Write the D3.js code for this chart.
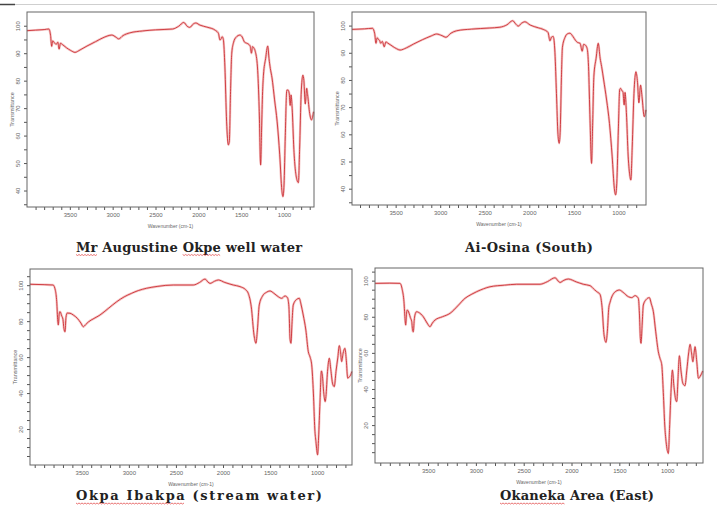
<!DOCTYPE html>
<html>
<head>
<meta charset="utf-8">
<script src="https://cdn.jsdelivr.net/npm/d3@7"></script>
<style>
  body { margin: 0; background: #fff; }
  svg { display: block; }
</style>
</head>
<body>
<div id="chart"></div>
<script>
// spectra: [wavenumber cm-1, transmittance %]
const captions = ['Mr Augustine Okpe well water', 'Ai-Osina (South)', 'Okpa Ibakpa (stream water)', 'Okaneka Area (East)'];
const flaggedWords = [['Mr', 'Okpe'], [], ['Okpa Ibakpa'], ['Okaneka']];

const xTickLabels = [3500, 3000, 2500, 2000, 1500, 1000];
const yTickLabelsTop = [40, 50, 60, 70, 80, 90, 100];
const yTickLabelsBottom = [20, 40, 60, 80, 100];

const augustineWell = [[4000,98.2],[3900,98.4],[3800,98.6],[3745,98.8],[3725,96.5],[3712,92.5],[3700,94.5],[3680,93.8],[3660,93.2],[3640,94],[3625,91.5],[3610,93.6],[3580,93],[3540,92],[3490,91],[3440,90.3],[3380,91.2],[3300,92.6],[3200,94.2],[3100,95.8],[3010,96.6],[2960,95.8],[2930,95.2],[2880,96.4],[2800,97.4],[2650,98.1],[2500,98.5],[2300,98.8],[2230,99.8],[2170,101.2],[2130,99.8],[2100,99.4],[2060,100.6],[2030,101],[1980,100.2],[1900,99.5],[1800,98.3],[1765,97.2],[1748,94.8],[1735,95.2],[1722,96],[1708,95],[1690,85],[1670,65],[1650,56.6],[1638,58],[1625,75],[1610,90],[1590,93.8],[1560,95.8],[1515,96.6],[1490,96],[1460,94],[1440,93.7],[1420,93.4],[1395,92.6],[1380,90],[1368,92.4],[1350,91.8],[1335,90.6],[1310,85],[1290,70],[1273,49.3],[1262,62],[1250,76],[1240,82],[1215,88],[1190,92.6],[1175,88],[1160,84.5],[1140,81],[1110,73],[1080,65],[1050,53],[1025,40],[1012,37.8],[1000,42],[985,60],[968,76.5],[955,76.6],[940,75.5],[928,71],[918,74.8],[905,70],[885,55],[850,44],[832,42.9],[818,55],[800,75],[780,82],[768,80],[752,71.5],[735,77.2],[725,75],[700,68],[680,65.7],[655,68.7]];

const aiOsina = [[3990,98.6],[3850,98.8],[3760,99],[3735,97],[3721,93.5],[3708,95.5],[3695,95],[3680,94.5],[3668,93.5],[3650,94.2],[3628,92.2],[3610,94],[3590,93.6],[3540,92.5],[3490,91.5],[3451,91],[3380,91.8],[3300,93.2],[3200,94.8],[3100,96.2],[3040,96.9],[2980,96.3],[2935,95.7],[2880,97.2],[2815,98.1],[2650,98.7],[2450,99.1],[2330,99.4],[2250,100.3],[2187,101.8],[2150,100.5],[2124,99.8],[2090,100.8],[2049,101.4],[1990,100.2],[1900,99.2],[1844,98.6],[1790,97.5],[1768,94.4],[1750,95.8],[1731,96],[1712,90],[1695,75],[1678,60],[1664,56.7],[1652,62],[1640,80],[1628,92],[1600,95.6],[1570,97],[1544,97.2],[1510,96],[1480,94.5],[1458,93.8],[1430,93.5],[1406,90.6],[1390,93.1],[1370,92.8],[1350,91.5],[1335,85],[1318,65],[1301,49.3],[1290,62],[1275,81.4],[1250,88],[1226,93.5],[1205,88],[1188,84.9],[1165,80],[1132,72.6],[1100,64],[1070,52],[1045,40],[1031,37.7],[1018,42],[1000,62],[985,76.5],[975,76.9],[960,76],[949,75.7],[935,70.8],[925,75.4],[910,68],[890,52],[870,44.5],[860,43.2],[845,55],[825,75],[803,83],[785,79],[770,71.6],[751,78.1],[735,74],[710,66.5],[691,69]];

const okpaIbakpa = [[4050,100.5],[3900,100.3],[3805,100.1],[3780,97],[3766,90.8],[3755,80],[3749,77.9],[3740,84],[3731,85.3],[3713,82.9],[3700,81],[3690,76],[3678,74.1],[3668,82],[3655,84.5],[3625,84.4],[3590,83.4],[3548,81.6],[3510,79],[3484,76.9],[3460,78],[3431,79.5],[3370,81.5],[3307,83.4],[3220,87],[3129,90.8],[3050,93.5],[2970,95.5],[2900,97],[2811,98.3],[2700,99.3],[2528,100.1],[2316,100.1],[2250,101.5],[2191,103.4],[2160,101.8],[2138,101],[2090,102.2],[2050,102.9],[1980,101.5],[1891,100.1],[1820,99.2],[1760,97.5],[1732,95.5],[1700,88],[1670,72],[1650,67.7],[1635,75],[1615,89],[1580,94],[1540,96],[1501,96.8],[1460,95.5],[1413,93.6],[1377,92.7],[1342,94],[1315,93],[1300,88],[1288,70],[1278,67.7],[1268,78],[1254,89],[1220,92],[1190,92.7],[1170,89],[1148,83.4],[1120,75],[1094,63],[1075,60],[1058,55.7],[1040,40],[1025,20],[1013,13],[995,5.6],[985,15],[970,35],[955,52.3],[945,50],[930,40],[915,35.3],[907,38],[890,52],[871,59.4],[855,53],[835,45],[818,43.6],[800,52],[780,60],[765,66.4],[752,63],[740,57.5],[725,62],[705,64.9],[690,58],[676,48.3],[660,49],[644,50],[632,52]];

const okanekaEast = [[4055,98.5],[3900,98.6],[3794,98.5],[3770,95],[3752,88.3],[3740,78],[3734,75.4],[3725,82],[3717,83.7],[3699,82],[3685,79.5],[3671,77.3],[3660,72],[3654,71.7],[3645,78],[3637,81],[3620,82.8],[3602,82.5],[3575,81.5],[3550,80],[3510,76.5],[3480,74.5],[3455,76.5],[3427,78.2],[3350,80],[3270,81.9],[3190,86],[3114,90.2],[3050,92.3],[2991,93.9],[2920,95.5],[2852,96.6],[2700,97.5],[2573,98],[2329,98],[2250,99.5],[2172,101.6],[2140,99.8],[2120,99],[2080,100.2],[2033,100.9],[1950,99.3],[1876,98],[1806,97.2],[1760,95],[1736,93.9],[1702,92.4],[1680,85],[1660,70],[1639,65.8],[1625,72],[1610,85],[1597,88],[1550,93.5],[1500,94.8],[1460,93.5],[1405,91.1],[1370,90.6],[1335,91.7],[1301,90.2],[1290,82],[1280,68],[1273,65.3],[1262,75],[1249,86.5],[1220,89.5],[1186,90.6],[1165,87],[1144,82.8],[1120,72],[1092,60.6],[1075,57],[1056,53.3],[1040,38],[1025,20],[1011,10.8],[987,4.3],[975,18],[960,38],[945,50.5],[930,42],[910,34],[899,33],[887,45],[872,58.4],[855,50],[835,43],[813,41.8],[795,50],[775,60],[760,64.7],[745,60],[731,55.1],[718,60],[708,63.4],[690,55],[673,45.9],[655,47],[638,48.7],[628,50]];

const width = 717, height = 508;

// frame boxes [left, top, right, bottom], caption centres and widths
const panels = [
  { data: augustineWell, box: [27, 12, 314, 207], xDomain: [4000, 650], yDomain: [34, 105], yLabels: yTickLabelsTop, cap: [189, 251.5], capWidth: 226 },
  { data: aiOsina,       box: [352, 12, 646, 205], xDomain: [3990, 690], yDomain: [34, 105], yLabels: yTickLabelsTop, cap: [529, 251.5], capWidth: 128 },
  { data: okpaIbakpa,    box: [30, 269, 352, 465], xDomain: [4050, 630], yDomain: [0, 109], yLabels: yTickLabelsBottom, cap: [199, 500], capWidth: 246 },
  { data: okanekaEast,   box: [375, 268, 703, 463], xDomain: [4055, 625], yDomain: [-1, 107], yLabels: yTickLabelsBottom, cap: [577, 500], capWidth: 154 }
];

const svg = d3.select('#chart')
  .append('svg')
  .attr('width', width)
  .attr('height', height);

svg.append('rect').attr('width', width).attr('height', height).attr('fill', '#fff');

// page edge line at the top
svg.append('line').attr('x1', 0).attr('x2', width).attr('y1', 4.5).attr('y2', 4.5)
  .attr('stroke', '#cfcfcf').attr('stroke-width', 1);
svg.append('line').attr('x1', 0).attr('x2', 15).attr('y1', 4.5).attr('y2', 4.5)
  .attr('stroke', '#444').attr('stroke-width', 1.5);

panels.forEach((p, i) => {
  const [l, t, r, b] = p.box;
  const x = d3.scaleLinear().domain(p.xDomain).range([l, r]);
  const y = d3.scaleLinear().domain(p.yDomain).range([b, t]);
  const g = svg.append('g');

  // minor x ticks every 100
  const xMinor = d3.range(700, 4001, 100).filter(v => x(v) > l + 1 && x(v) < r - 1);
  g.append('g')
    .attr('transform', `translate(0,${b})`)
    .call(d3.axisBottom(x).tickValues(xMinor).tickSize(3).tickFormat(''))
    .call(a => a.select('.domain').remove())
    .selectAll('line').attr('stroke', '#555');

  g.append('g')
    .attr('transform', `translate(0,${b})`)
    .call(d3.axisBottom(x).tickValues(xTickLabels).tickSize(0).tickPadding(6).tickFormat(d => d))
    .call(a => a.select('.domain').remove())
    .selectAll('text')
    .attr('font-family', 'Liberation Sans, Arial, sans-serif')
    .attr('font-size', 6)
    .attr('fill', '#666');

  // y ticks every 5
  const yMinor = d3.range(0, 106, 5).filter(v => y(v) > t + 2 && y(v) < b - 2);
  g.append('g')
    .attr('transform', `translate(${l},0)`)
    .call(d3.axisLeft(y).tickValues(yMinor).tickSize(3).tickFormat(''))
    .call(a => a.select('.domain').remove())
    .selectAll('line').attr('stroke', '#555');

  const yl = g.append('g')
    .attr('transform', `translate(${l},0)`)
    .call(d3.axisLeft(y).tickValues(p.yLabels).tickSize(0).tickPadding(0).tickFormat(d => d))
    .call(a => a.select('.domain').remove());
  yl.selectAll('text')
    .attr('font-family', 'Liberation Sans, Arial, sans-serif')
    .attr('font-size', 6)
    .attr('fill', '#666')
    .attr('text-anchor', 'middle')
    .attr('dy', 0)
    .attr('x', 0)
    .attr('transform', 'translate(-7,0) rotate(-90)');

  // axis titles
  g.append('text')
    .attr('x', (l + r) / 2).attr('y', b + 21)
    .attr('text-anchor', 'middle')
    .attr('font-family', 'Liberation Sans, Arial, sans-serif')
    .attr('font-size', 5)
    .attr('fill', '#666')
    .text('Wavenumber (cm-1)');

  g.append('text')
    .attr('transform', `translate(${l - 13},${(t + b) / 2}) rotate(-90)`)
    .attr('text-anchor', 'middle')
    .attr('font-family', 'Liberation Sans, Arial, sans-serif')
    .attr('font-size', 5.5)
    .attr('fill', '#666')
    .text('Transmittance');

  // spectrum
  const line = d3.line()
    .x(d => x(d[0]))
    .y(d => y(d[1]))
    .curve(d3.curveMonotoneX);

  g.append('path').datum(p.data)
    .attr('d', line)
    .attr('fill', 'none')
    .attr('stroke', '#f4c4c4')
    .attr('stroke-width', 2.4);
  g.append('path').datum(p.data)
    .attr('d', line)
    .attr('fill', 'none')
    .attr('stroke', '#cc3036')
    .attr('stroke-width', 0.9);

  // frame
  g.append('rect')
    .attr('x', l).attr('y', t)
    .attr('width', r - l).attr('height', b - t)
    .attr('fill', 'none')
    .attr('stroke', '#666')
    .attr('stroke-width', 1);

  // caption
  const cap = g.append('text')
    .attr('x', p.cap[0]).attr('y', p.cap[1])
    .attr('text-anchor', 'middle')
    .attr('font-family', 'DejaVu Serif, serif')
    .attr('font-weight', 'bold')
    .attr('font-size', 13)
    .attr('textLength', p.capWidth)
    .attr('lengthAdjust', 'spacing')
    .attr('fill', '#222')
    .text(captions[i]);

  // spell-check squiggles under some words
  flaggedWords[i].forEach(word => {
    const idx = captions[i].indexOf(word);
    const x0 = cap.node().getStartPositionOfChar(idx).x;
    const x1 = cap.node().getEndPositionOfChar(idx + word.length - 1).x;
    const yy = p.cap[1] + 3;
    const pts = d3.range(x0, x1, 1.5).map((xx, k) => [xx, yy + (k % 2 ? 1 : 0)]);
    g.append('path')
      .attr('d', d3.line()(pts))
      .attr('fill', 'none')
      .attr('stroke', '#e03a3a')
      .attr('stroke-width', 0.7);
  });
});
</script>
</body>
</html>
